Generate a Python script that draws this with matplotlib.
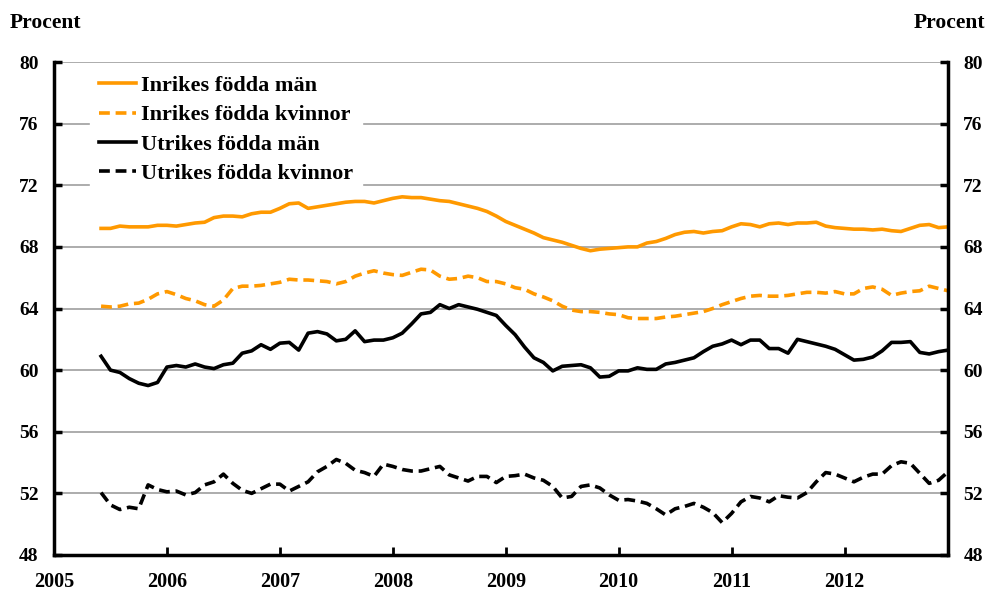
import matplotlib.pyplot as plt
import numpy as np

# month index since Jan 2005, data from June 2005 to Dec 2012
months = np.arange(5, 96)

inrikes_man = [
    69.2, 69.2, 69.35, 69.3, 69.3, 69.3, 69.4,
    69.4, 69.35, 69.45, 69.55, 69.6, 69.9, 70.0, 70.0, 69.95, 70.15, 70.25, 70.25,
    70.5, 70.8, 70.85, 70.5, 70.6, 70.7, 70.8, 70.9, 70.95, 70.95, 70.85, 71.0,
    71.15, 71.25, 71.2, 71.2, 71.1, 71.0, 70.95, 70.8, 70.65, 70.5, 70.3, 70.0,
    69.65, 69.4, 69.15, 68.9, 68.6, 68.45, 68.3, 68.1, 67.9, 67.75, 67.85, 67.9,
    67.95, 68.0, 68.0, 68.25, 68.35, 68.55, 68.8, 68.95, 69.0, 68.9, 69.0, 69.05,
    69.3, 69.5, 69.45, 69.3, 69.5, 69.55, 69.45, 69.55, 69.55, 69.6, 69.35, 69.25,
    69.2, 69.15, 69.15, 69.1, 69.15, 69.05, 69.0, 69.2, 69.4, 69.45, 69.25, 69.3,
]

inrikes_kvinnor = [
    64.15, 64.1, 64.15, 64.3, 64.35, 64.6, 64.95,
    65.1, 64.9, 64.65, 64.5, 64.25, 64.15, 64.55, 65.3, 65.45, 65.45, 65.5, 65.6,
    65.7, 65.9, 65.85, 65.85, 65.8, 65.75, 65.6, 65.75, 66.1, 66.3, 66.45, 66.3,
    66.2, 66.15, 66.35, 66.55, 66.5, 66.1, 65.9, 65.95, 66.1, 66.0, 65.75, 65.75,
    65.6, 65.35, 65.25, 64.95, 64.75, 64.5, 64.15, 63.9, 63.8, 63.8, 63.75, 63.65,
    63.6, 63.4, 63.35, 63.35, 63.35, 63.45, 63.5, 63.6, 63.7, 63.8, 64.0, 64.25,
    64.45, 64.65, 64.8, 64.85, 64.8, 64.8, 64.85, 64.95, 65.05, 65.05, 65.0, 65.1,
    64.95, 64.95, 65.3, 65.4, 65.25, 64.85, 65.0, 65.1, 65.15, 65.45, 65.3, 65.15,
]

utrikes_man = [
    60.9, 60.0, 59.85, 59.45, 59.15, 59.0, 59.2,
    60.2, 60.3, 60.2, 60.4, 60.2, 60.1, 60.35, 60.45, 61.1, 61.25, 61.65, 61.35,
    61.75, 61.8, 61.3, 62.4, 62.5, 62.35, 61.9, 62.0, 62.55, 61.85, 61.95, 61.95,
    62.1, 62.4, 63.0, 63.65, 63.75, 64.25, 64.0, 64.25, 64.1, 63.95, 63.75, 63.55,
    62.9, 62.3, 61.5, 60.8, 60.5, 59.95, 60.25, 60.3, 60.35, 60.15, 59.55, 59.6,
    59.95, 59.95, 60.15, 60.05, 60.05, 60.4, 60.5, 60.65, 60.8, 61.2, 61.55, 61.7,
    61.95, 61.65, 61.95, 61.95, 61.4, 61.4, 61.1, 62.0, 61.85, 61.7, 61.55, 61.35,
    61.0, 60.65, 60.7, 60.85, 61.25, 61.8, 61.8, 61.85, 61.15, 61.05, 61.2, 61.3,
]

utrikes_kvinnor = [
    52.05, 51.25, 50.95, 51.1, 51.0, 52.55, 52.25,
    52.1, 52.15, 51.9, 52.05, 52.55, 52.75, 53.25, 52.65, 52.2, 52.0, 52.3, 52.6,
    52.6, 52.15, 52.45, 52.75, 53.4, 53.75, 54.2, 53.95, 53.5, 53.35, 53.1, 53.9,
    53.75, 53.55, 53.45, 53.45, 53.6, 53.75, 53.2, 53.0, 52.8, 53.1, 53.1, 52.7,
    53.1, 53.15, 53.25, 53.0, 52.85, 52.45, 51.7, 51.8, 52.45, 52.55, 52.35, 51.9,
    51.55, 51.6, 51.5, 51.35, 51.0, 50.6, 51.0, 51.15, 51.35, 51.1, 50.75, 50.1,
    50.7, 51.45, 51.8, 51.7, 51.45, 51.85, 51.75, 51.7, 52.05, 52.75, 53.35, 53.25,
    53.0, 52.75, 53.05, 53.25, 53.25, 53.8, 54.05, 53.95, 53.3, 52.65, 52.85, 53.4,
]

years = ['2005', '2006', '2007', '2008', '2009', '2010', '2011', '2012']
yticks = [48, 52, 56, 60, 64, 68, 72, 76, 80]

orange = '#FF9900'
plt.rcParams['font.family'] = 'Liberation Serif'
plt.rcParams['font.weight'] = 'bold'

fig = plt.figure(figsize=(9.93, 5.93), dpi=100)
ax = fig.add_axes([0.0544, 0.0641, 0.9003, 0.8313])

lw = 2.6
ax.plot(months, inrikes_man, color=orange, lw=lw, label='Inrikes födda män')
ax.plot(months, inrikes_kvinnor, color=orange, lw=lw, dashes=(3, 1.6), label='Inrikes födda kvinnor')
ax.plot(months, utrikes_man, color='black', lw=lw, label='Utrikes födda män')
ax.plot(months, utrikes_kvinnor, color='black', lw=lw, dashes=(3, 1.6), label='Utrikes födda kvinnor')

ax.set_xlim(0, 95)
ax.set_ylim(48, 80)
ax.set_xticks(np.arange(0, 96, 12)[:len(years)])
ax.set_xticklabels(years)
ax.set_yticks(yticks)
ax.yaxis.grid(True, color='#A6A6A6', lw=1.3)
ax.set_axisbelow(True)

ax.spines['top'].set_visible(False)
for s in ['left', 'right', 'bottom']:
    ax.spines[s].set_linewidth(2.5)
ax.tick_params(axis='y', direction='in', left=True, right=True, labelleft=True,
               labelright=True, length=6, width=2.5, labelsize=14, pad=11)
ax.tick_params(axis='x', direction='in', length=6, width=2, labelsize=14.5, pad=12)

leg = ax.legend(loc='upper left', bbox_to_anchor=(0.035, 1.0), frameon=True, fancybox=False,
                edgecolor='white', framealpha=1, fontsize=16, handlelength=1.7,
                handletextpad=0.2, labelspacing=0.4, borderaxespad=0.2)

fig.text(0.01, 0.962, 'Procent', fontsize=15.5, ha='left', va='center')
fig.text(0.992, 0.962, 'Procent', fontsize=15.5, ha='right', va='center')

fig.savefig('out.png', dpi=100)
